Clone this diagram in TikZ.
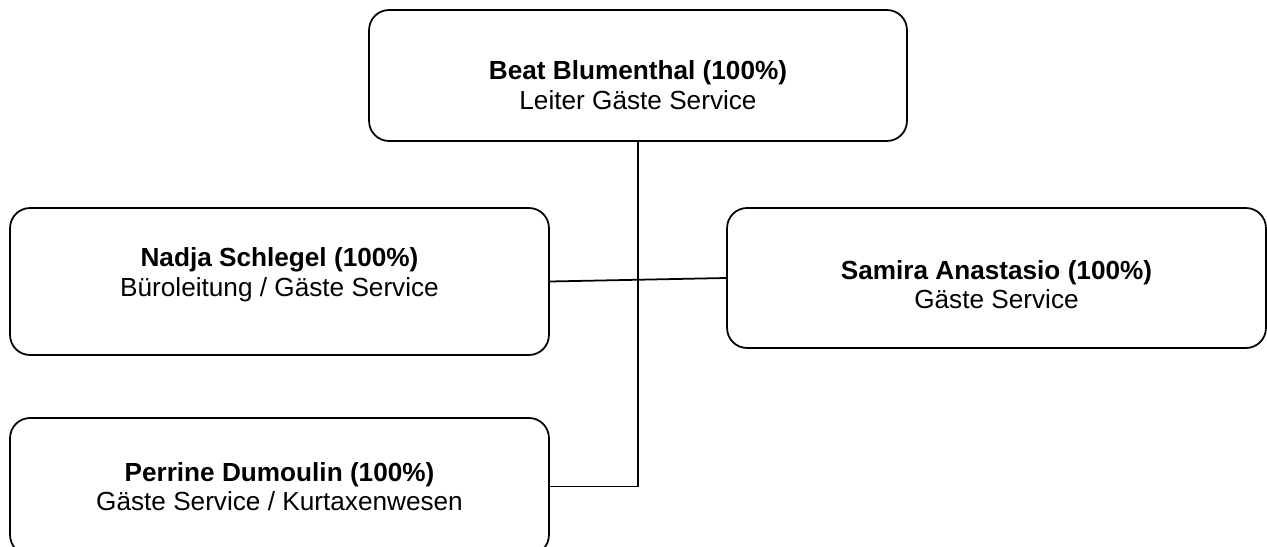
\documentclass[tikz,border=0pt]{standalone}
\usepackage{fontspec}
\setmainfont{Liberation Sans}
\tikzset{
  person/.style={draw, line width=1pt, rounded corners=0.4cm, minimum width=10.78cm, inner sep=0pt},
  who/.style={align=center, inner sep=0pt, font=\fontsize{14.9}{16.8}\selectfont},
}
\begin{document}
\begin{tikzpicture}[x=0.02cm, y=-0.02cm]
  \useasboundingbox (0,0) rectangle (1267,547);
  \node[person, minimum width=10.76cm, minimum height=2.62cm] (beat) at (638,75.5) {};
  \node[person, minimum height=2.94cm] (nadja) at (279.5,281.5) {};
  \node[person, minimum height=2.8cm] (samira) at (996.5,278) {};
  \node[person, minimum height=2.74cm] (perrine) at (279.5,486.5) {};
  \node[who] (beat-txt) at ([yshift=-0.19cm]beat.center) {\textbf{Beat Blumenthal (100\%)}\\Leiter Gäste Service};
  \node[who] (nadja-txt) at ([yshift=0.14cm]nadja.center) {\textbf{Nadja Schlegel (100\%)}\\Büroleitung / Gäste Service};
  \node[who] (samira-txt) at ([yshift=-0.13cm]samira.center) {\textbf{Samira Anastasio (100\%)}\\Gäste Service};
  \node[who] (perrine-txt) at (perrine.center) {\textbf{Perrine Dumoulin (100\%)}\\Gäste Service / Kurtaxenwesen};
  \draw[line width=1pt] (beat.south) |- (perrine.east);
  \draw[line width=1pt] (nadja.east) -- (samira.west);
\end{tikzpicture}
\end{document}
